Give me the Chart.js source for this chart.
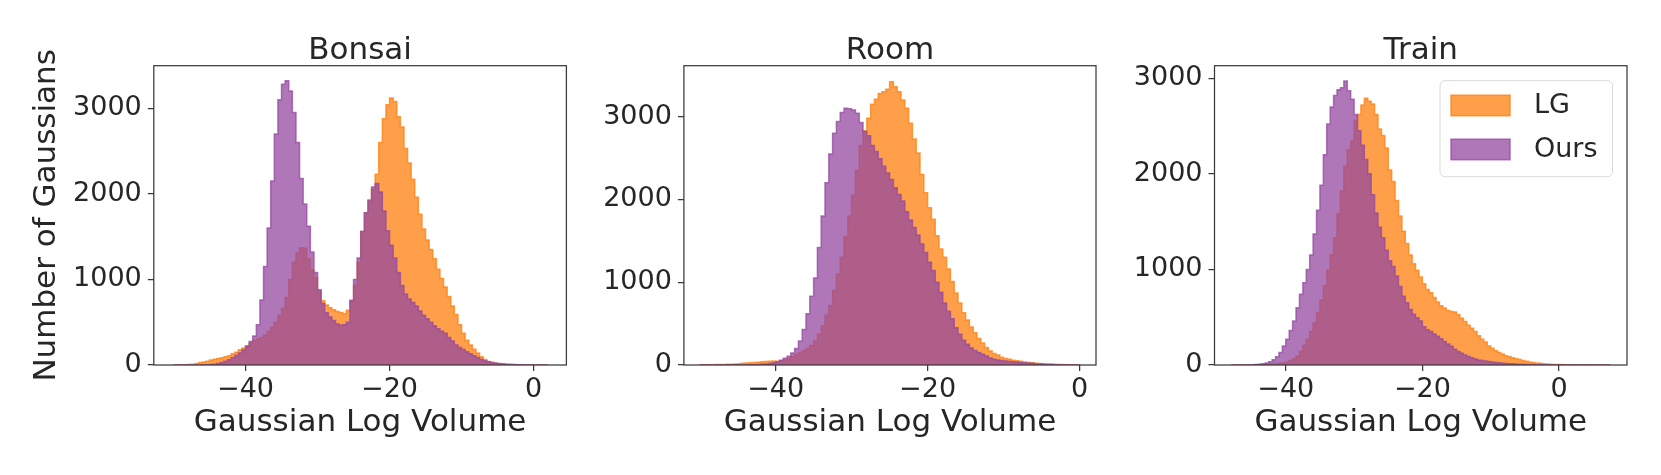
<!DOCTYPE html>
<html>
<head>
<meta charset="utf-8">
<script src="https://cdn.jsdelivr.net/npm/chart.js@4.4.1/dist/chart.umd.min.js"></script>
<style>
  html, body { margin: 0; padding: 0; background: #fff; }
  #wrap { position: relative; width: 1661px; height: 475px; overflow: hidden; }
  canvas { position: absolute; top: 0; }
</style>
</head>
<body>
<div id="wrap">
  <canvas id="bonsai" width="600" height="475" style="left:0px"></canvas>
  <canvas id="room" width="520" height="475" style="left:600px"></canvas>
  <canvas id="train" width="541" height="475" style="left:1120px"></canvas>
</div>
<script>
// histogram counts, bins 0.5 wide, first bin starts at xxxStart
const binWidth = 0.5;
const seriesNames = ['LG', 'Ours'];
const xTickValues = [-40, -20, 0];
const yTickValues = [0, 1000, 2000, 3000];

const bonsaiStart = -50;
const bonsaiLG = [
  0, 0, 0, 2, 5, 10, 18, 28, 36, 45,
  58, 68, 76, 84, 95, 108, 130, 150, 178, 200,
  225, 255, 285, 305, 320, 350, 390, 440, 500, 580,
  660, 790, 1000, 1200, 1310, 1370, 1365, 1240, 1110, 1020,
  860, 750, 700, 670, 645, 625, 612, 600, 640, 760,
  930, 1200, 1560, 1780, 1930, 2050, 2230, 2600, 2880, 3040,
  3120, 3080, 2900, 2780, 2530, 2360, 2170, 1960, 1760, 1590,
  1460, 1350, 1240, 1120, 1010, 910, 800, 690, 590, 470,
  370, 290, 235, 185, 140, 95, 65, 42, 28, 18,
  12, 8, 5, 3, 2, 1, 1, 0, 0, 0,
  0, 0, 0, 0
];
const bonsaiOurs = [
  0, 0, 0, 0, 0, 0, 0, 0, 0, 2,
  5, 10, 18, 30, 45, 62, 85, 110, 140, 175,
  220, 275, 340, 470, 760, 1150, 1600, 2150, 2700, 3100,
  3280, 3320, 3200, 2950, 2600, 2180, 1880, 1620, 1320, 1080,
  880, 720, 610, 560, 520, 480, 465, 470, 500, 750,
  1000, 1250, 1560, 1780, 1920, 2080, 2120, 2020, 1800, 1570,
  1400, 1250, 1080, 930, 830, 770, 730, 690, 630, 580,
  540, 500, 460, 425, 395, 370, 320, 280, 235, 205,
  180, 155, 130, 108, 88, 65, 50, 38, 28, 22,
  18, 14, 10, 8, 5, 3, 2, 1, 0, 0,
  0, 0, 0, 0
];

const roomStart = -50;
const roomLG = [
  3, 3, 4, 4, 5, 6, 7, 8, 10, 12,
  15, 20, 24, 28, 30, 34, 38, 42, 46, 48,
  45, 50, 60, 80, 100, 125, 150, 175, 200, 235,
  290, 370, 470, 600, 720, 900, 1100, 1300, 1550, 1800,
  2050, 2350, 2650, 2830, 2980, 3150, 3210, 3280, 3300, 3330,
  3420, 3360, 3300, 3200, 3100, 2920, 2730, 2560, 2300, 2080,
  1900, 1760, 1560, 1400, 1300, 1160, 1010, 870, 750, 630,
  545, 460, 390, 320, 265, 210, 170, 140, 120, 95,
  80, 68, 58, 50, 44, 36, 30, 26, 22, 19,
  16, 13, 11, 9, 7, 5, 4, 3, 2, 1
];
const roomOurs = [
  0, 0, 0, 0, 0, 0, 0, 0, 0, 0,
  0, 0, 0, 2, 4, 6, 8, 12, 18, 26,
  38, 58, 82, 105, 145, 200, 290, 430, 620, 830,
  1050, 1420, 1800, 2200, 2550, 2800, 2940, 3050, 3100, 3095,
  3080, 3040, 2930, 2820, 2770, 2650, 2580, 2490, 2400, 2320,
  2240, 2140, 2060, 1980, 1850, 1750, 1660, 1570, 1460, 1360,
  1240, 1140, 1000, 880, 750, 650, 560, 450, 370, 300,
  250, 205, 175, 150, 130, 110, 85, 70, 60, 54,
  48, 43, 39, 35, 31, 28, 24, 20, 16, 12,
  9, 7, 5, 3, 2, 1, 1, 0, 0, 0
];

const trainStart = -48;
const trainLG = [
  0, 0, 0, 0, 1, 1, 2, 3, 4, 5,
  7, 9, 12, 15, 19, 24, 32, 48, 65, 95,
  140, 205, 270, 350, 440, 550, 680, 830, 990, 1150,
  1330, 1580, 1820, 2080, 2250, 2340, 2560, 2620, 2720, 2790,
  2760, 2730, 2620, 2470, 2400, 2270, 2040, 1920, 1720, 1560,
  1400, 1270, 1150, 1060, 990, 920, 850, 790, 755, 705,
  660, 620, 595, 570, 560, 555, 525, 490, 455, 415,
  385, 350, 305, 270, 240, 200, 175, 150, 130, 115,
  98, 85, 75, 66, 58, 48, 40, 32, 26, 21,
  17, 13, 10, 8, 6, 5, 4, 3, 3, 2,
  2, 2, 1, 1, 1, 1, 1, 0, 0, 0,
  0
];
const trainOurs = [
  0, 0, 0, 0, 0, 0, 2, 4, 8, 14,
  22, 35, 55, 85, 130, 200, 270, 360, 460, 600,
  740, 860, 1000, 1150, 1370, 1620, 1880, 2200, 2520, 2700,
  2820, 2880, 2900, 2970, 2870, 2780, 2620, 2450, 2300, 2150,
  2000, 1780, 1590, 1440, 1330, 1200, 1090, 1030, 930, 820,
  720, 650, 580, 530, 495, 460, 400, 370, 350, 325,
  300, 275, 245, 220, 195, 165, 142, 122, 105, 90,
  76, 64, 52, 46, 41, 36, 31, 27, 23, 19,
  16, 14, 12, 10, 8, 7, 6, 5, 4, 3,
  2, 2, 1, 1, 1, 0, 0, 0, 0, 0,
  0, 0, 0, 0, 0, 0, 0, 0, 0, 0,
  0
];

const textColor = '#262626';
const axisColor = '#3a3a3a';
const lgColor = 'rgba(255, 127, 14, 0.75)';
const oursColor = 'rgba(148, 72, 160, 0.75)';
const fontFamily = '"DejaVu Sans", sans-serif';

Chart.defaults.font.family = fontFamily;
Chart.defaults.color = textColor;

function toSteps(start, counts) {
  const pts = counts.map((c, i) => ({ x: start + i * binWidth, y: c }));
  pts.push({ x: start + counts.length * binWidth, y: 0 });
  return pts;
}

function fmtX(v) {
  return v < 0 ? '\u2212' + Math.abs(v) : String(v);
}

// frame, panel title and the in-axes legend
const panelPlugin = {
  id: 'panel',
  afterDraw(chart, args, o) {
    const { ctx, chartArea: a } = chart;
    ctx.save();
    ctx.strokeStyle = axisColor;
    ctx.lineWidth = 1.25;
    ctx.strokeRect(a.left, a.top, a.right - a.left, a.bottom - a.top);

    ctx.fillStyle = textColor;
    ctx.font = '31px ' + fontFamily;
    ctx.textAlign = 'center';
    ctx.textBaseline = 'alphabetic';
    ctx.fillText(o.title, (a.left + a.right) / 2, a.top - 6.5);

    if (o.legend) {
      const bx = a.right - 187, by = a.top + 15, bw = 172.5, bh = 96;
      ctx.beginPath();
      ctx.roundRect(bx, by, bw, bh, 5);
      ctx.fillStyle = 'rgba(255,255,255,0.8)';
      ctx.fill();
      ctx.strokeStyle = '#d9d9d9';
      ctx.lineWidth = 1;
      ctx.stroke();
      const ds = chart.data.datasets.slice().sort((p, q) => q.order - p.order);
      ds.forEach((d, i) => {
        const py = by + 14.5 + i * 44;
        ctx.fillStyle = d.backgroundColor;
        ctx.fillRect(bx + 11, py, 59, 20.5);
        ctx.strokeStyle = d.borderColor;
        ctx.lineWidth = 1.5;
        ctx.strokeRect(bx + 11, py, 59, 20.5);
        ctx.fillStyle = textColor;
        ctx.font = '27px ' + fontFamily;
        ctx.textAlign = 'left';
        ctx.textBaseline = 'middle';
        ctx.fillText(d.label, bx + 94, py + 11);
      });
    }
    ctx.restore();
  }
};

function makePanel(id, title, start, lg, ours, xMin, xMax, yMax, yWidth, padRight, showYTitle, showLegend) {
  return new Chart(document.getElementById(id), {
    type: 'line',
    data: {
      datasets: [
        {
          label: seriesNames[0],
          data: toSteps(start, lg),
          order: 1,
          stepped: true,
          fill: 'origin',
          backgroundColor: lgColor,
          borderColor: lgColor,
          borderWidth: 1.5,
          pointRadius: 0
        },
        {
          label: seriesNames[1],
          data: toSteps(start, ours),
          order: 0,
          stepped: true,
          fill: 'origin',
          backgroundColor: oursColor,
          borderColor: oursColor,
          borderWidth: 1.5,
          pointRadius: 0
        }
      ]
    },
    options: {
      responsive: false,
      devicePixelRatio: 1,
      animation: false,
      events: [],
      layout: { padding: { top: 65.7, right: padRight, bottom: 0, left: 0 } },
      scales: {
        x: {
          type: 'linear',
          min: xMin,
          max: xMax,
          afterBuildTicks: s => { s.ticks = xTickValues.map(v => ({ value: v })); },
          afterFit: s => { s.height = 110; },
          border: { display: false },
          grid: { drawOnChartArea: false, drawTicks: true, tickLength: 6, color: axisColor, lineWidth: 1.25 },
          ticks: { color: textColor, font: { size: 27 }, padding: 3, maxRotation: 0, autoSkip: false, callback: fmtX },
          title: {
            display: true,
            text: 'Gaussian Log Volume',
            color: textColor,
            font: { size: 31 },
            padding: { top: 0, bottom: 33 }
          }
        },
        y: {
          type: 'linear',
          min: 0,
          max: yMax,
          afterBuildTicks: s => { s.ticks = yTickValues.map(v => ({ value: v })); },
          afterFit: s => { s.width = yWidth; },
          border: { display: false },
          grid: { drawOnChartArea: false, drawTicks: true, tickLength: 6, color: axisColor, lineWidth: 1.25 },
          ticks: { color: textColor, font: { size: 27 }, padding: 6, callback: v => String(v) },
          title: {
            display: showYTitle,
            text: 'Number of Gaussians',
            color: textColor,
            font: { size: 31 },
            padding: { top: 28.5, bottom: 0 }
          }
        }
      },
      plugins: {
        legend: { display: false },
        tooltip: { enabled: false },
        panel: { title: title, legend: showLegend }
      }
    },
    plugins: [panelPlugin]
  });
}

makePanel('bonsai', 'Bonsai', bonsaiStart, bonsaiLG, bonsaiOurs, -52.74, 4.56, 3497, 153.8, 33.6, true, false);
makePanel('room', 'Room', roomStart, roomLG, roomOurs, -52.07, 2.16, 3615, 83.9, 24, false, false);
makePanel('train', 'Train', trainStart, trainLG, trainOurs, -50.44, 9.96, 3131, 94.5, 34, false, true);
</script>
</body>
</html>
